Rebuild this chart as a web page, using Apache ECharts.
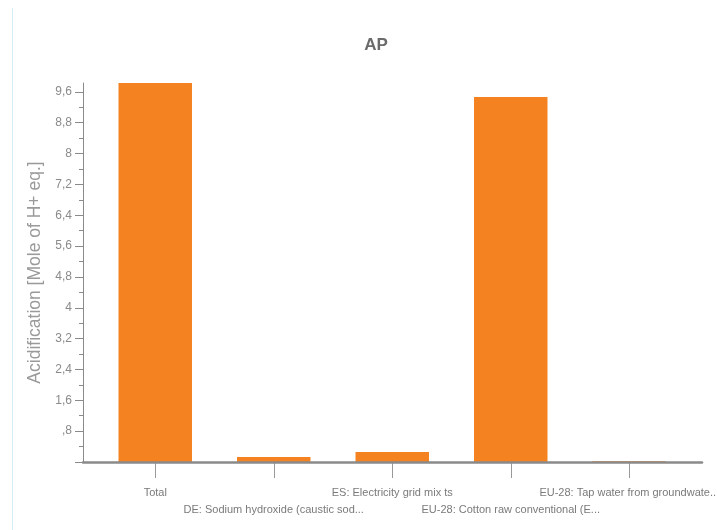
<!DOCTYPE html>
<html>
<head>
<meta charset="utf-8">
<script src="https://cdn.jsdelivr.net/npm/echarts@6/dist/echarts.min.js"></script>
<style>html,body{margin:0;padding:0;background:#fff}#c{width:717px;height:530px}</style>
</head>
<body>
<div id="c"></div>
<script>
var categories = ["Total", "DE: Sodium hydroxide (caustic sod...", "ES: Electricity grid mix ts", "EU-28: Cotton raw conventional (E...", "EU-28: Tap water from groundwate..."];
var values = [9.83, 0.13, 0.26, 9.47, 0.02];
var majorTicks = [0, 0.8, 1.6, 2.4, 3.2, 4, 4.8, 5.6, 6.4, 7.2, 8, 8.8, 9.6];
var minorTicks = [0.4, 1.2, 2.0, 2.8, 3.6, 4.4, 5.2, 6.0, 6.8, 7.6, 8.4, 9.2];
var yMax = 9.83;
var titleText = "AP";
var yName = "Acidification [Mole of H+ eq.]";

function fmt(v) {
  if (Math.abs(v) < 1e-9) return '';
  var s = String(Math.round(v * 10) / 10).replace('.', ',');
  if (s.indexOf('0,') === 0) s = s.slice(1);
  return s;
}
var font = '"Liberation Sans Narrow", "Liberation Sans", Arial, sans-serif';
var chart = echarts.init(document.getElementById('c'));
chart.setOption({
  animation: false,
  title: {text: titleText, left: 371, top: 32, textAlign: 'center',
    textStyle: {fontSize: 17, fontWeight: 'bold', color: '#6b6b6b', fontFamily: font}},
  graphic: [{type: 'line', shape: {x1: 12.5, y1: 8, x2: 12.5, y2: 530}, style: {stroke: '#d8ecf8', lineWidth: 1}}],
  grid: [
    {left: 96, right: 28.5, top: 83, bottom: 68, outerBoundsMode: 'none', containLabel: false},
    {left: 83, right: 15, top: 83, bottom: 68, outerBoundsMode: 'none', containLabel: false}
  ],
  xAxis: [
    {type: 'category', gridIndex: 0, data: categories,
      axisLine: {show: false},
      axisTick: {show: true, alignWithLabel: true, length: 16, lineStyle: {color: '#999', width: 1}},
      axisLabel: {interval: 0, margin: 22, color: '#7a7a7a', fontSize: 11, fontFamily: font, lineHeight: 17,
        hideOverlap: false,
        formatter: function (v, i) { return i % 2 === 1 ? '\n' + v : v; }}},
    {type: 'value', gridIndex: 1, min: 0, max: 1, z: 5,
      axisLine: {show: true, lineStyle: {color: '#8a8a8a', width: 2.5}},
      axisTick: {show: false}, axisLabel: {show: false}, splitLine: {show: false}}
  ],
  yAxis: [
    {type: 'value', gridIndex: 0, min: 0, max: yMax, show: false},
    {type: 'value', gridIndex: 1, min: 0, max: yMax, z: 4, position: 'left',
      name: yName, nameLocation: 'middle', nameGap: 30,
      nameTextStyle: {fontSize: 17.5, color: '#9a9a9a', fontFamily: font},
      axisLine: {show: true, lineStyle: {color: '#8a8a8a', width: 1}},
      axisTick: {show: true, length: 8, customValues: majorTicks, lineStyle: {color: '#8a8a8a'}},
      axisLabel: {show: true, customValues: majorTicks, margin: 11, color: '#8a8a8a', fontSize: 12, fontFamily: font,
        formatter: fmt},
      splitLine: {show: false}},
    {type: 'value', gridIndex: 1, min: 0, max: yMax, position: 'left', offset: 0,
      axisLine: {show: false},
      axisTick: {show: true, length: 4, customValues: minorTicks, lineStyle: {color: '#8a8a8a'}},
      axisLabel: {show: false}, splitLine: {show: false}}
  ],
  series: [{type: 'bar', xAxisIndex: 0, yAxisIndex: 0, data: values, barWidth: '62%',
    itemStyle: {color: '#f58220'}}]
});
</script>
</body>
</html>
